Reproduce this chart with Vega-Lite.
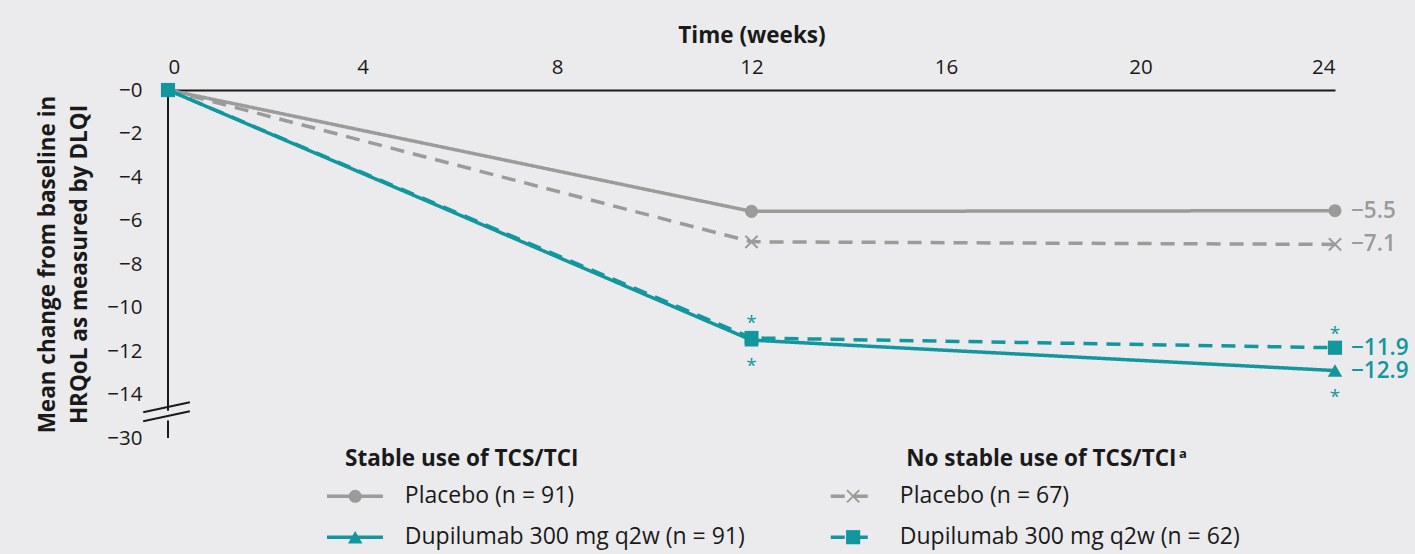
{
  "$schema": "https://vega.github.io/schema/vega-lite/v6.json",
  "autosize": "none",
  "width": 1167,
  "height": 348,
  "padding": {"left": 168, "top": 90, "right": 80, "bottom": 116},
  "background": "#ebebed",
  "config": {
    "view": {"stroke": null},
    "font": "Open Sans",
    "text": {"font": "Open Sans"}
  },
  "datasets": {
    "series": [
      {"week": 0, "value": 0, "series": "ps"},
      {"week": 12, "value": -5.58, "series": "ps"},
      {"week": 24, "value": -5.55, "series": "ps"},
      {"week": 0, "value": 0, "series": "pn"},
      {"week": 12, "value": -6.98, "series": "pn"},
      {"week": 24, "value": -7.1, "series": "pn"},
      {"week": 0, "value": 0, "series": "ds"},
      {"week": 12, "value": -11.5, "series": "ds"},
      {"week": 24, "value": -12.9, "series": "ds"},
      {"week": 0, "value": 0, "series": "dn"},
      {"week": 12, "value": -11.4, "series": "dn"},
      {"week": 24, "value": -11.85, "series": "dn"}
    ],
    "legendLines": [
      {"x1": 3.27, "x2": 4.42, "value": -18.68, "series": "ps"},
      {"x1": 3.27, "x2": 4.42, "value": -20.56, "series": "ds"},
      {"x1": 13.63, "x2": 14.54, "value": -18.68, "series": "pn"},
      {"x1": 13.63, "x2": 14.54, "value": -20.56, "series": "dn"}
    ],
    "legendText": [
      {"week": 4.87, "value": -18.68, "label": "Placebo (n = 91)"},
      {"week": 4.87, "value": -20.56, "label": "Dupilumab 300 mg q2w (n = 91)"},
      {"week": 15.05, "value": -18.68, "label": "Placebo (n = 67)"},
      {"week": 15.05, "value": -20.56, "label": "Dupilumab 300 mg q2w (n = 62)"}
    ],
    "headings": [
      {"week": 3.64, "value": -16.98, "label": "Stable use of TCS/TCI"},
      {"week": 15.18, "value": -16.98, "label": "No stable use of TCS/TCI"}
    ],
    "endLabels": [
      {"week": 24, "value": -5.55, "label": "−5.5", "series": "ps"},
      {"week": 24, "value": -7.1, "label": "−7.1", "series": "pn"},
      {"week": 24, "value": -11.85, "label": "−11.9", "series": "dn"},
      {"week": 24, "value": -12.9, "label": "−12.9", "series": "ds"}
    ],
    "stars": [
      {"week": 12, "value": -10.46},
      {"week": 12, "value": -12.48},
      {"week": 24, "value": -11.0},
      {"week": 24, "value": -13.9}
    ],
    "axisLine": [
      {"week": 0, "y1": 0, "y2": -14.75},
      {"week": 0, "y1": -15.2, "y2": -16}
    ],
    "breaks": [
      {"x1": -0.51, "x2": 0.45, "y1": -14.82, "y2": -14.36},
      {"x1": -0.51, "x2": 0.45, "y1": -15.23, "y2": -14.77}
    ]
  },
  "layer": [
    {
      "data": {"name": "axisLine"},
      "mark": {"type": "rule", "color": "#1a1a1a", "strokeWidth": 2},
      "encoding": {
        "x": {
          "field": "week", "type": "quantitative",
          "scale": {"domain": [0, 24], "nice": false, "zero": false},
          "axis": {
            "orient": "top", "values": [0, 4, 8, 12, 16, 20, 24],
            "title": "Time (weeks)", "titleFontSize": 22.5, "titleFontWeight": "bold",
            "titleColor": "#1a1a1a", "titlePadding": 10,
            "labelFontSize": 20.5, "labelColor": "#1a1a1a", "labelPadding": 13,
            "ticks": false, "grid": false, "domain": true,
            "domainColor": "#1a1a1a", "domainWidth": 2
          }
        },
        "y": {
          "field": "y1", "type": "quantitative",
          "scale": {"domain": [-16, 0], "nice": false, "zero": false},
          "axis": {
            "orient": "left", "values": [0, -2, -4, -6, -8, -10, -12, -14, -16],
            "labelExpr": "datum.value == -16 ? '−30' : '−' + abs(datum.value)",
            "title": ["Mean change from baseline in", "HRQoL as measured by DLQI"],
            "titleFontSize": 22.5, "titleFontWeight": "bold", "titleColor": "#1a1a1a",
            "titlePadding": 15, "titleLineHeight": 32,
            "labelFontSize": 20.5, "labelColor": "#1a1a1a", "labelPadding": 26,
            "ticks": false, "grid": false, "domain": false
          }
        },
        "y2": {"field": "y2"}
      }
    },
    {
      "data": {"name": "breaks"},
      "mark": {"type": "rule", "color": "#1a1a1a", "strokeWidth": 2},
      "encoding": {
        "x": {"field": "x1", "type": "quantitative"},
        "x2": {"field": "x2"},
        "y": {"field": "y1", "type": "quantitative"},
        "y2": {"field": "y2"}
      }
    },
    {
      "data": {"name": "series"},
      "mark": {"type": "line", "strokeWidth": 3.5},
      "encoding": {
        "x": {"field": "week", "type": "quantitative"},
        "y": {"field": "value", "type": "quantitative"},
        "detail": {"field": "series"},
        "color": {
          "field": "series", "type": "nominal", "legend": null,
          "scale": {"domain": ["ps", "pn", "ds", "dn"], "range": ["#9b9b9b", "#9b9b9b", "#13979f", "#13979f"]}
        },
        "strokeDash": {
          "field": "series", "type": "nominal", "legend": null,
          "scale": {"domain": ["ps", "pn", "ds", "dn"], "range": [[1, 0], [14, 9], [1, 0], [14, 9]]}
        },
        "order": {"field": "week", "type": "quantitative"}
      }
    },
    {
      "data": {"name": "legendLines"},
      "mark": {"type": "rule", "strokeWidth": 3.5},
      "encoding": {
        "x": {"field": "x1", "type": "quantitative"},
        "x2": {"field": "x2"},
        "y": {"field": "value", "type": "quantitative"},
        "color": {"field": "series", "type": "nominal", "legend": null},
        "strokeDash": {
          "field": "series", "type": "nominal", "legend": null,
          "scale": {"domain": ["ps", "pn", "ds", "dn"], "range": [[1, 0], [16, 12], [1, 0], [1, 0]]}
        }
      }
    },
    {
      "data": {
        "values": [
          {"week": 0, "value": 0, "series": "ps"},
          {"week": 12, "value": -5.58, "series": "ps"},
          {"week": 24, "value": -5.55, "series": "ps"},
          {"week": 3.85, "value": -18.68, "series": "ps"}
        ]
      },
      "mark": {"type": "point", "shape": "circle", "filled": true, "size": 170, "opacity": 1, "color": "#9b9b9b"},
      "encoding": {
        "x": {"field": "week", "type": "quantitative"},
        "y": {"field": "value", "type": "quantitative"}
      }
    },
    {
      "data": {
        "values": [
          {"week": 12, "value": -6.98, "series": "pn"},
          {"week": 24, "value": -7.1, "series": "pn"},
          {"week": 14.09, "value": -18.68, "series": "pn"}
        ]
      },
      "mark": {"type": "point", "shape": "M-1,-1L1,1M-1,1L1,-1", "filled": false, "size": 150, "strokeWidth": 2, "opacity": 1, "color": "#9b9b9b"},
      "encoding": {
        "x": {"field": "week", "type": "quantitative"},
        "y": {"field": "value", "type": "quantitative"}
      }
    },
    {
      "data": {
        "values": [
          {"week": 12, "value": -11.5, "series": "ds"},
          {"week": 24, "value": -12.9, "series": "ds"},
          {"week": 3.85, "value": -20.56, "series": "ds"}
        ]
      },
      "mark": {"type": "point", "shape": "triangle-up", "filled": true, "size": 210, "opacity": 1, "color": "#13979f"},
      "encoding": {
        "x": {"field": "week", "type": "quantitative"},
        "y": {"field": "value", "type": "quantitative"}
      }
    },
    {
      "data": {
        "values": [
          {"week": 0, "value": 0, "series": "dn"},
          {"week": 12, "value": -11.4, "series": "dn"},
          {"week": 24, "value": -11.85, "series": "dn"},
          {"week": 14.09, "value": -20.56, "series": "dn"}
        ]
      },
      "mark": {"type": "point", "shape": "square", "filled": true, "size": 200, "opacity": 1, "color": "#13979f"},
      "encoding": {
        "x": {"field": "week", "type": "quantitative"},
        "y": {"field": "value", "type": "quantitative"}
      }
    },
    {
      "data": {"name": "stars"},
      "mark": {"type": "text", "text": "*", "fontSize": 19, "fontWeight": "normal", "color": "#13979f", "baseline": "middle", "align": "center", "dy": 5},
      "encoding": {
        "x": {"field": "week", "type": "quantitative"},
        "y": {"field": "value", "type": "quantitative"}
      }
    },
    {
      "data": {"name": "endLabels"},
      "mark": {"type": "text", "fontSize": 22.5, "fontWeight": 600, "baseline": "middle", "align": "left", "dx": 16},
      "encoding": {
        "x": {"field": "week", "type": "quantitative"},
        "y": {"field": "value", "type": "quantitative"},
        "text": {"field": "label"},
        "color": {
          "field": "series", "type": "nominal", "legend": null,
          "scale": {"domain": ["ps", "pn", "ds", "dn"], "range": ["#8a8a8a", "#8a8a8a", "#13979f", "#13979f"]}
        }
      }
    },
    {
      "data": {"name": "headings"},
      "mark": {"type": "text", "fontSize": 22.5, "fontWeight": "bold", "color": "#1a1a1a", "baseline": "middle", "align": "left"},
      "encoding": {
        "x": {"field": "week", "type": "quantitative"},
        "y": {"field": "value", "type": "quantitative"},
        "text": {"field": "label"}
      }
    },
    {
      "data": {"values": [{"week": 20.79, "value": -16.75, "label": "a"}]},
      "mark": {"type": "text", "fontSize": 13, "fontWeight": "bold", "color": "#1a1a1a", "baseline": "middle", "align": "left"},
      "encoding": {
        "x": {"field": "week", "type": "quantitative"},
        "y": {"field": "value", "type": "quantitative"},
        "text": {"field": "label"}
      }
    },
    {
      "data": {"name": "legendText"},
      "mark": {"type": "text", "fontSize": 23, "color": "#1a1a1a", "baseline": "middle", "align": "left"},
      "encoding": {
        "x": {"field": "week", "type": "quantitative"},
        "y": {"field": "value", "type": "quantitative"},
        "text": {"field": "label"}
      }
    }
  ]
}
